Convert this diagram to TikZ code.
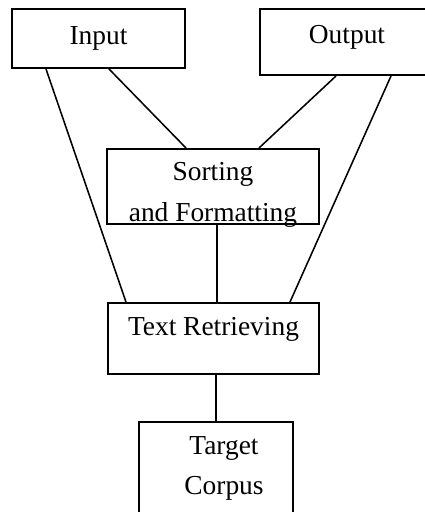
\documentclass[tikz,border=0pt]{standalone}
\usepackage{fontspec}
\setmainfont{Liberation Serif}
\usetikzlibrary{calc, positioning}
\tikzset{
  blk/.style args={#1/#2}{
    rectangle, draw=black, line width=1.4pt,
    font=\fontsize{19.5pt}{29pt}\selectfont, align=center,
    inner sep=0pt, minimum width=#1, minimum height=#2,
  },
  lnk/.style={line width=1.1pt, color=black},
  txt/.style={
    font=\fontsize{19.5pt}{28.5pt}\selectfont, align=center,
    inner sep=0pt,
  },
}
\begin{document}
\begin{tikzpicture}[x=0.025cm,y=-0.025cm]
    \useasboundingbox (0,0) rectangle (425,512);
    \clip (0,0) rectangle (425,512);
    \node[blk=4.325cm/1.475cm] (input) at (98.5,38.5) {Input};
    \node[blk=4.35cm/1.65cm, text depth=0.395cm] (output) at (347,42) {Output};
    \node[blk=5.3cm/1.875cm, text height=1.725cm, text depth=0pt] (sort) at (213,186.5) {Sorting\\and Formatting};
    \node[blk=5.275cm/1.775cm, text depth=0.62cm] (retr) at (213.5,338.5) {Text Retrieving};
    \node[blk=3.85cm/3.45cm] (corpus) at (216,491) {};
    \node[txt, anchor=north, text height=1.475cm] (corpusTxt) at (224,435) {Target\\Corpus};
    % links from the top boxes
    \draw[lnk] ($(input.south west)+(35,0)$) -- ($(retr.north west)+(19,0)$);
    \draw[lnk] ($(input.south west)+(98,0)$) -- ($(sort.north west)+(80,0)$);
    \draw[lnk] ($(output.south west)+(77,0)$) -- ($(sort.north west)+(153,0)$);
    \draw[lnk] ($(output.south west)+(132,0)$) -- ($(retr.north west)+(183,0)$);
    % vertical chain
    \draw[lnk] ($(sort.south)+(4,0)$) -- ($(retr.north)+(3.5,0)$);
    \draw[lnk] (retr.south -| corpus.north) -- (corpus.north);
\end{tikzpicture}
\end{document}
